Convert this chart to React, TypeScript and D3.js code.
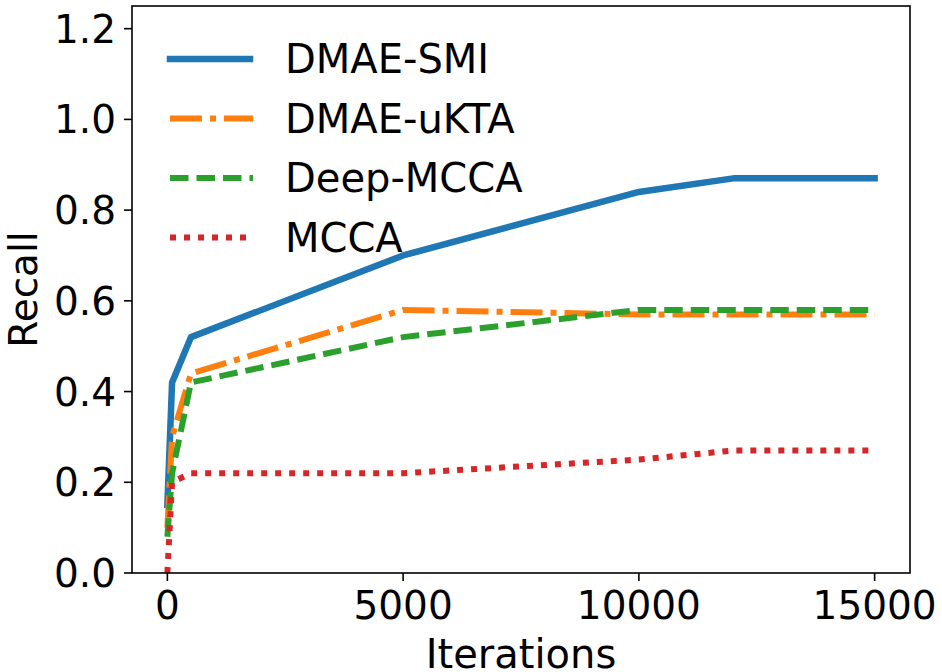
import * as d3 from "d3"

const iterations = [0, 100, 500, 5000, 10000, 12000, 15000]
const dmaeSmi = [0.15, 0.42, 0.52, 0.7, 0.84, 0.87, 0.87]
const dmaeUkta = [0.1, 0.3, 0.44, 0.58, 0.57, 0.57, 0.57]
const deepMcca = [0.08, 0.22, 0.42, 0.52, 0.58, 0.58, 0.58]
const mcca = [0.0, 0.2, 0.22, 0.22, 0.25, 0.27, 0.27]

const xTicks = [0, 5000, 10000, 15000]
const yTicks = [0, 0.2, 0.4, 0.6, 0.8, 1.0, 1.2]

const series = [
  { name: "DMAE-SMI", values: dmaeSmi, color: "#1f77b4", dash: "", width: 6.5, cap: "square" },
  { name: "DMAE-uKTA", values: dmaeUkta, color: "#ff7f0e", dash: "32 8 6 8", width: 6, cap: "butt" },
  { name: "Deep-MCCA", values: deepMcca, color: "#2ca02c", dash: "18.5 8", width: 6, cap: "butt" },
  { name: "MCCA", values: mcca, color: "#d62728", dash: "6 8", width: 6, cap: "butt" },
]

const W = 942
const H = 672
const left = 132
const right = 910
const top = 6
const bottom = 573
const font = "DejaVu Sans, sans-serif"

export default function App() {
  const x = d3.scaleLinear().domain([-750, 15750]).range([left, right])
  const y = d3.scaleLinear().domain([0, 1.25]).range([bottom, top])

  const line = (vals: number[]) =>
    d3
      .line<number>()
      .x((_, i) => x(iterations[i]))
      .y((d) => y(d))(vals) || ""

  return (
    <svg
      width={W}
      height={H}
      style={{ position: "absolute", left: 0, top: 0, background: "white" }}
      fontFamily={font}
    >
      <defs>
        <clipPath id="plot">
          <rect x={left} y={top} width={right - left} height={bottom - top} />
        </clipPath>
      </defs>
      <rect x={0} y={0} width={W} height={H} fill="white" />

      {/* lines */}
      <g clipPath="url(#plot)">
        {series.map((s) => (
          <path
            key={s.name}
            d={line(s.values)}
            fill="none"
            stroke={s.color}
            strokeWidth={s.width}
            strokeDasharray={s.dash || undefined}
            strokeLinecap={s.cap as any}
            strokeLinejoin="round"
          />
        ))}
      </g>

      {/* frame */}
      <rect
        x={left}
        y={top}
        width={right - left}
        height={bottom - top}
        fill="none"
        stroke="black"
        strokeWidth={1.6}
      />

      {/* y axis */}
      {yTicks.map((t) => (
        <g key={t} transform={`translate(0,${y(t)})`}>
          <line x1={left - 8} x2={left} stroke="black" strokeWidth={1.6} />
          <text x={left - 16} dy="0.36em" textAnchor="end" fontSize={39}>
            {t.toFixed(1)}
          </text>
        </g>
      ))}

      {/* x axis */}
      {xTicks.map((t) => (
        <g key={t} transform={`translate(${x(t)},0)`}>
          <line y1={bottom} y2={bottom + 8} stroke="black" strokeWidth={1.6} />
          <text y={619} textAnchor="middle" fontSize={39}>
            {t}
          </text>
        </g>
      ))}

      <text x={(left + right) / 2} y={668} textAnchor="middle" fontSize={40}>
        Iterations
      </text>
      <text
        transform={`translate(37,${(top + bottom) / 2}) rotate(-90)`}
        textAnchor="middle"
        fontSize={39}
      >
        Recall
      </text>

      {/* legend */}
      {series.map((s, i) => {
        const ly = 59 + i * 59.5
        return (
          <g key={s.name}>
            <line
              x1={170}
              x2={s.cap === "square" ? 250 : 253}
              y1={ly}
              y2={ly}
              stroke={s.color}
              strokeWidth={s.width}
              strokeDasharray={s.dash || undefined}
              strokeLinecap={s.cap as any}
            />
            <text x={285} y={ly} dy="0.36em" fontSize={40}>
              {s.name}
            </text>
          </g>
        )
      })}
    </svg>
  )
}
